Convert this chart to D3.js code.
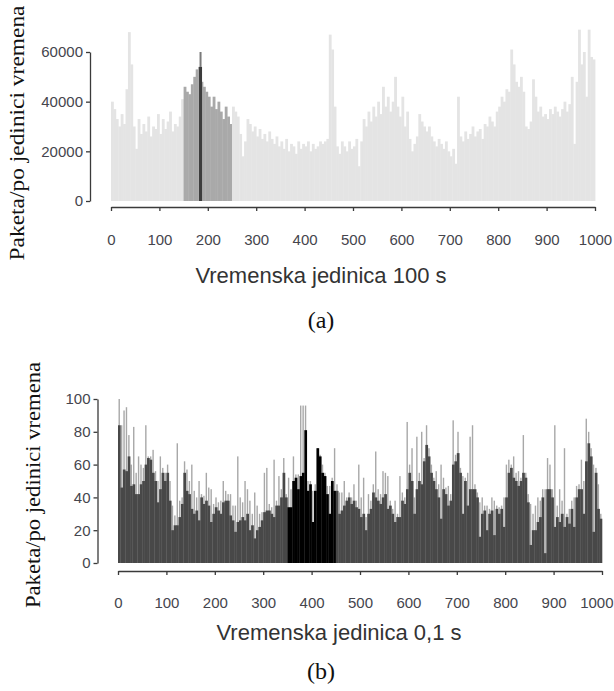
<!DOCTYPE html>
<meta charset="utf-8">

<script src="https://d3js.org/d3.v7.min.js"></script>

<style type="text/css">

body {
  margin: 0;
  background: #fff;
}

.axis path,
.axis line {
  stroke: #3a3a3a;
  stroke-width: 1.3px;
}

.axis text {
  font-family: "Liberation Sans", Arial, sans-serif;
  font-size: 15px;
  fill: #45454d;
}

.xTitle {
  font-family: "Liberation Sans", Arial, sans-serif;
  font-size: 22px;
  fill: #333;
}

.yTitle,
.panelLabel {
  font-family: "Liberation Serif", "Times New Roman", serif;
  fill: #111;
}

</style>

<body></body>

<script>

  // ---------------------------//
  //         DATA               //
  // ---------------------------//

  // bins are 5 time units wide, 200 bins -> 0..1000
  const binSize = 5

  // (a) paketa per 100 s unit
  const valuesA = [
    40000,37000,33000,30000,35000,31000,45000,68000,55000,30000,
    21000,33000,27000,31000,28000,34000,26000,30000,29000,35000,
    27000,33000,29000,32000,36000,28000,31000,30000,34000,41000,
    46000,44000,43000,47000,50000,53000,54000,48000,46000,44000,
    42000,38000,42000,37000,40000,36000,33000,38000,34000,31000,
    38000,36000,34000,27000,18000,24000,33000,31000,28000,30000,
    26000,29000,25000,27000,24000,28000,25000,23000,26000,22000,
    24000,21000,25000,20000,23000,22000,19000,24000,21000,23000,
    22000,24000,20000,23000,21000,22000,24000,23000,24000,25000,
    67000,61000,38000,22000,19000,24000,22000,20000,24000,21000,
    22000,25000,14000,24000,33000,30000,36000,32000,38000,34000,
    40000,35000,46000,38000,42000,36000,40000,50000,38000,34000,
    42000,30000,36000,25000,20000,23000,26000,35000,32000,30000,
    28000,30000,26000,24000,22000,25000,23000,21000,24000,20000,
    18000,21000,15000,42000,26000,24000,28000,25000,27000,30000,
    26000,28000,29000,25000,31000,30000,34000,32000,30000,36000,
    38000,42000,40000,45000,44000,61000,55000,48000,46000,50000,
    44000,30000,29000,32000,49000,42000,36000,38000,34000,35000,
    33000,37000,35000,38000,36000,34000,37000,40000,36000,39000,
    50000,23000,48000,69000,55000,60000,42000,69000,58000,57000
  ]
  const highlightA = [150, 250]
  // single dark bar inside the highlighted window
  const markA = {t: 185, value: 54000, peak: 60000}

  const yTicksA = [0, 20000, 40000, 60000]

  // (b) paketa per 0,1 s unit : body of each bin and its tallest spike
  const baseB = [
    84,46,57,56,65,47,48,42,42,48,
    50,60,64,63,55,50,37,45,55,50,
    55,38,20,23,23,28,36,55,44,42,
    33,30,32,26,40,36,38,35,25,30,
    34,32,30,37,38,38,29,26,19,25,
    26,28,26,30,20,23,15,20,22,26,
    31,32,32,30,28,35,35,40,55,40,
    34,34,50,52,45,53,55,81,44,48,
    25,44,70,65,55,53,42,30,50,44,
    44,30,32,35,38,40,36,38,34,33,
    28,30,20,30,33,43,40,38,36,40,
    42,33,35,30,25,28,28,38,36,45,
    55,50,30,45,50,48,62,72,65,55,
    50,45,40,27,45,42,35,38,60,62,
    67,55,30,50,35,45,45,45,40,16,
    30,32,20,30,32,17,33,30,33,22,
    40,55,58,52,50,47,50,55,52,37,
    11,20,20,25,28,40,6,45,45,40,
    22,28,25,30,22,28,24,33,22,40,
    45,45,30,62,73,65,19,55,33,27
  ]
  const peakB = [
    100,84,93,95,78,60,83,55,65,60,
    58,84,65,65,69,56,50,65,58,55,
    60,50,35,29,73,38,40,62,57,50,
    60,44,40,50,42,41,55,46,45,36,
    40,37,38,50,44,42,42,35,35,65,
    40,37,50,45,38,30,43,35,30,31,
    55,58,36,34,63,38,53,45,64,42,
    52,45,65,54,54,96,96,96,50,50,
    44,48,70,66,60,55,47,47,52,70,
    48,43,43,50,40,43,40,48,38,60,
    40,52,28,42,38,48,68,45,42,56,
    55,53,38,33,38,30,53,43,40,86,
    60,70,40,77,55,80,64,84,70,60,
    52,56,48,60,52,46,47,42,87,66,
    80,58,53,52,55,77,84,48,43,37,
    40,35,35,33,40,38,35,34,35,40,
    60,63,60,65,55,56,52,78,55,42,
    36,30,35,40,38,45,45,64,60,45,
    84,35,45,38,70,30,33,38,40,47,
    48,63,50,88,80,70,60,58,48,30
  ]
  const highlightB = [350, 450]
  const yTicksB = [0, 20, 40, 60, 80, 100]

  const xTicks = [0, 100, 200, 300, 400, 500, 600, 700, 800, 900, 1000]

  const yLabel = "Paketa/po jedinici vremena"
  const xLabelA = "Vremenska jedinica 100 s"
  const xLabelB = "Vremenska jedinica 0,1 s"

  // ---------------------------//
  //         SETUP              //
  // ---------------------------//

  const width = 614
  const height = 691

  const SVG = d3.select("body").append("svg")
    .attr("width", width)
    .attr("height", height)

  const inHighlight = (t, range) => t >= range[0] && t < range[1]

  // ---------------------------//
  //         PANEL (a)          //
  // ---------------------------//

  const xA = d3.scaleLinear().domain([0, 1000]).range([111, 595])
  const yA = d3.scaleLinear().domain([0, 60000]).range([201, 52])
  const binW_A = xA(binSize) - xA(0)

  const panelA = SVG.append("g")

  panelA.selectAll(".barA")
    .data(valuesA)
    .enter().append("rect")
      .attr("x", (d, i) => xA(i * binSize))
      .attr("width", binW_A + 0.4)
      .attr("y", d => yA(d))
      .attr("height", d => yA(0) - yA(d))
      .attr("fill", (d, i) => inHighlight(i * binSize, highlightA) ? "#a9a9a9" : "#e4e4e4")

  // dark marker bar with its lighter tip
  panelA.append("rect")
    .attr("x", xA(markA.t) - 1)
    .attr("width", 2)
    .attr("y", yA(markA.peak))
    .attr("height", yA(markA.value) - yA(markA.peak))
    .attr("fill", "#7a7a7a")
  panelA.append("rect")
    .attr("x", xA(markA.t) - 1.5)
    .attr("width", 3)
    .attr("y", yA(markA.value))
    .attr("height", yA(0) - yA(markA.value))
    .attr("fill", "#3c3c3c")

  panelA.append("g")
    .attr("class", "axis")
    .attr("transform", "translate(90,0)")
    .call(d3.axisLeft(yA).tickValues(yTicksA).tickFormat(d3.format("d")).tickSize(4).tickSizeOuter(0))

  panelA.append("g")
    .attr("class", "axis")
    .attr("transform", "translate(0,207)")
    .call(d3.axisBottom(xA).tickValues(xTicks).tickFormat(d3.format("d")).tickSize(4).tickSizeOuter(0).tickPadding(23))

  panelA.append("text")
    .attr("class", "xTitle")
    .attr("x", 321)
    .attr("y", 283)
    .attr("text-anchor", "middle")
    .text(xLabelA)

  panelA.append("text")
    .attr("class", "panelLabel")
    .attr("x", 321)
    .attr("y", 328)
    .attr("text-anchor", "middle")
    .style("font-size", "24px")
    .text("(a)")

  panelA.append("text")
    .attr("class", "yTitle")
    .attr("transform", "translate(24,133) rotate(-90)")
    .attr("text-anchor", "middle")
    .attr("textLength", 255)
    .attr("lengthAdjust", "spacingAndGlyphs")
    .style("font-size", "20px")
    .text(yLabel)

  // ---------------------------//
  //         PANEL (b)          //
  // ---------------------------//

  const xB = d3.scaleLinear().domain([0, 1000]).range([118, 602])
  const yB = d3.scaleLinear().domain([0, 100]).range([563, 399])
  const binW_B = xB(binSize) - xB(0)

  const panelB = SVG.append("g")

  // thin light spikes first, dark bodies on top
  panelB.selectAll(".spikeB")
    .data(peakB)
    .enter().append("rect")
      .attr("x", (d, i) => xB(i * binSize) + binW_B / 2 - 0.7)
      .attr("width", 1.4)
      .attr("y", d => yB(d))
      .attr("height", d => yB(0) - yB(d))
      .attr("fill", "#a8a8a8")

  panelB.selectAll(".barB")
    .data(baseB)
    .enter().append("rect")
      .attr("x", (d, i) => xB(i * binSize))
      .attr("width", binW_B + 0.3)
      .attr("y", d => yB(d))
      .attr("height", d => yB(0) - yB(d))
      .attr("fill", (d, i) => inHighlight(i * binSize, highlightB) ? "#000" : "#484848")

  panelB.append("g")
    .attr("class", "axis")
    .attr("transform", "translate(97.5,0)")
    .call(d3.axisLeft(yB).tickValues(yTicksB).tickSize(4).tickSizeOuter(0))

  const xAxisB = panelB.append("g")
    .attr("class", "axis")
    .attr("transform", "translate(0,571)")
    .call(d3.axisBottom(xB).tickValues(xTicks).tickFormat(d3.format("d")).tickSize(4).tickSizeOuter(0).tickPadding(22))

  // last label sits at the window edge: keep it inside
  xAxisB.selectAll(".tick text")
    .filter(d => d === 1000)
    .attr("text-anchor", "end")
    .attr("x", 11)

  panelB.append("text")
    .attr("class", "xTitle")
    .attr("x", 339)
    .attr("y", 640)
    .attr("text-anchor", "middle")
    .text(xLabelB)

  panelB.append("text")
    .attr("class", "panelLabel")
    .attr("x", 321)
    .attr("y", 679)
    .attr("text-anchor", "middle")
    .style("font-size", "24px")
    .text("(b)")

  panelB.append("text")
    .attr("class", "yTitle")
    .attr("transform", "translate(40,485) rotate(-90)")
    .attr("text-anchor", "middle")
    .attr("textLength", 246)
    .attr("lengthAdjust", "spacingAndGlyphs")
    .style("font-size", "20px")
    .text(yLabel)

</script>
